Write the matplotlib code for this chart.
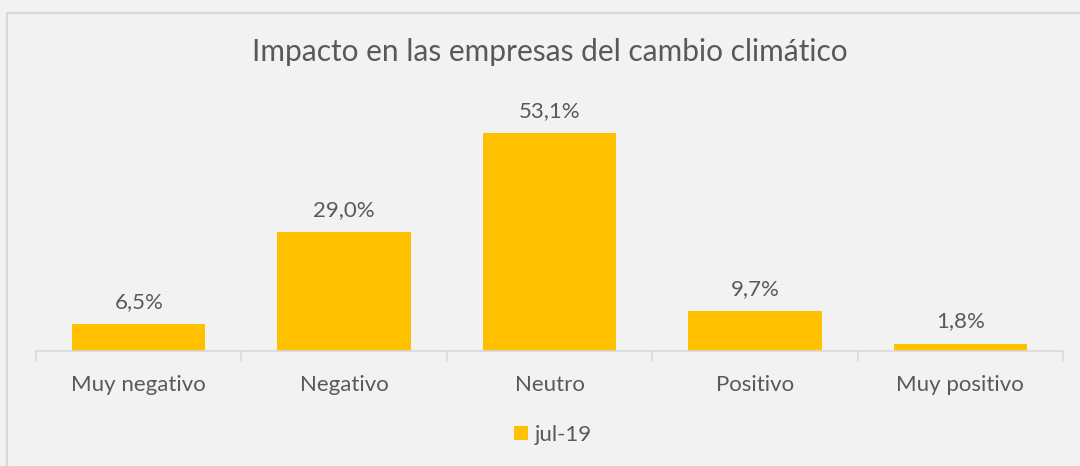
import matplotlib.pyplot as plt
import matplotlib.patches as patches

categorias = ['Muy negativo', 'Negativo', 'Neutro', 'Positivo', 'Muy positivo']
valores = [6.5, 29.0, 53.1, 9.7, 1.8]
serie = 'jul-19'

gris = '#595959'
plt.rcParams['font.family'] = ['Lato', 'DejaVu Sans']

W, H = 1080, 466
fig = plt.figure(figsize=(W / 100, H / 100), dpi=100)
fig.patch.set_facecolor('#f2f2f2')

# borde del grafico
borde = patches.Rectangle((7 / W, -0.1), 1.1, 1 - 13 / H + 0.1, transform=fig.transFigure,
                          fill=False, edgecolor='#d9d9d9', linewidth=1.5)
fig.patches.append(borde)

ax = fig.add_axes([36 / W, (H - 351) / H, (1063 - 36) / W, (351 - 105) / H])
ax.set_facecolor('#f2f2f2')
x = range(len(categorias))
barras = ax.bar(x, valores, width=0.65, color='#FFC000', label=serie, zorder=2)
ax.set_xlim(-0.5, len(categorias) - 0.5)
ax.set_ylim(0, 60)

for b, v in zip(barras, valores):
    ax.text(b.get_x() + b.get_width() / 2, v + 3.0, f'{v:.1f}%'.replace('.', ','),
            ha='center', va='bottom', fontsize=16, color=gris)

for s in ['top', 'left', 'right']:
    ax.spines[s].set_visible(False)
ax.spines['bottom'].set_color('#d9d9d9')
ax.spines['bottom'].set_linewidth(1.2)
ax.set_yticks([])
ax.set_xticks([i - 0.5 for i in range(len(categorias) + 1)], minor=False)
ax.set_xticklabels([])
ax.tick_params(axis='x', which='major', length=7, width=1.2, color='#d9d9d9')
ax.set_xticks(list(x), minor=True)
ax.set_xticklabels(categorias, minor=True, fontsize=16, color=gris)
ax.tick_params(axis='x', which='minor', length=0, pad=17)

fig.text(550 / W, 1 - 52 / H, 'Impacto en las empresas del cambio climático',
         ha='center', va='center', fontsize=21.5, color=gris)

fig.legend(loc='center', bbox_to_anchor=(553 / W, 1 - 435 / H), frameon=False,
           fontsize=16, labelcolor=gris, handlelength=0.6, handleheight=0.6,
           handletextpad=0.3)

fig.savefig('out.png', dpi=100, facecolor=fig.get_facecolor())
